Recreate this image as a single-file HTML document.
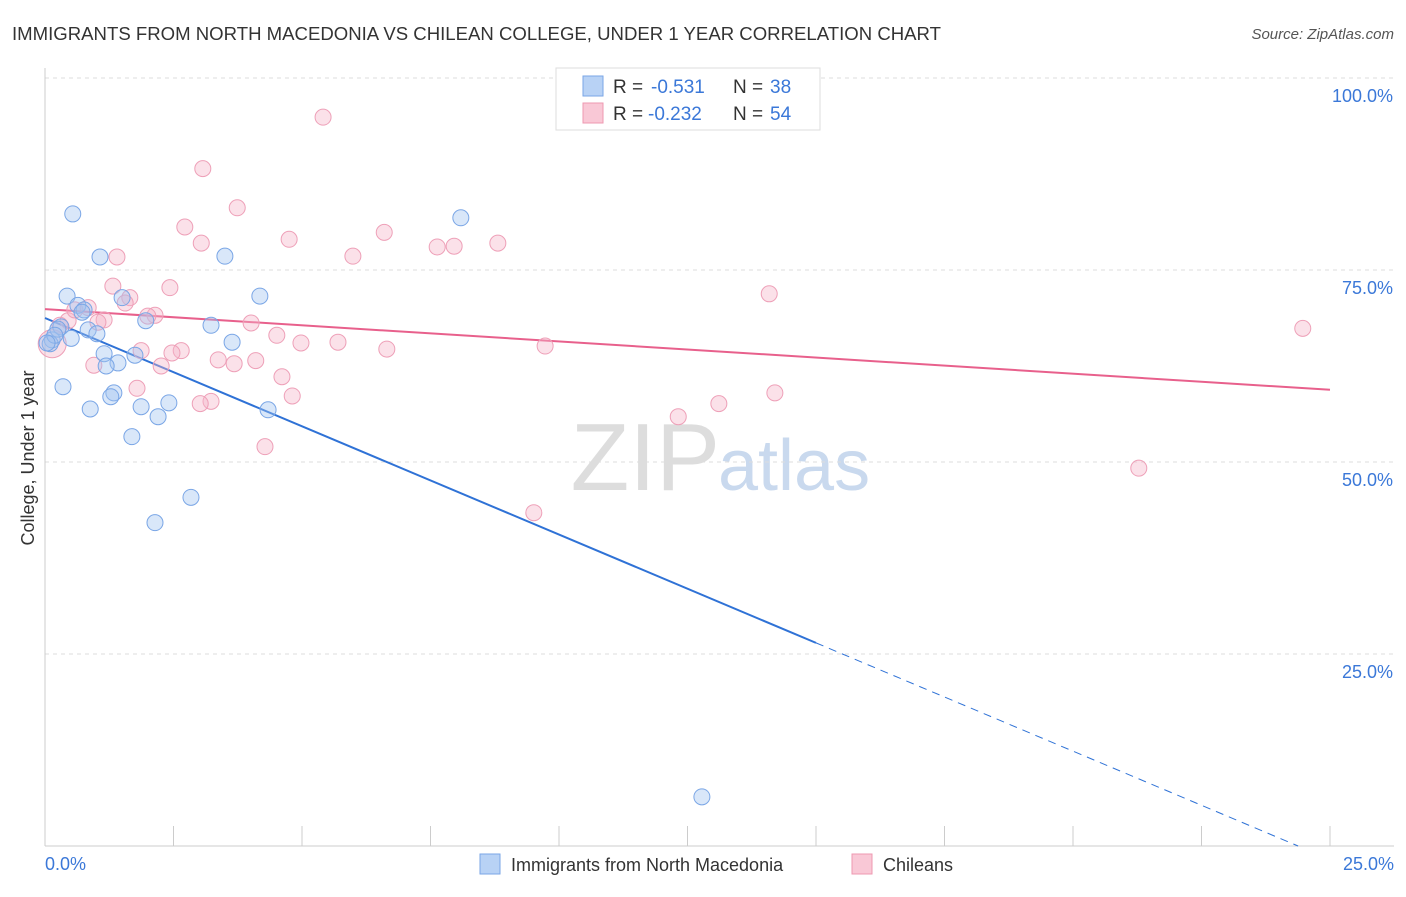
<!DOCTYPE html>
<html><head><meta charset="utf-8"><style>
body{margin:0;background:#fff;font-family:"Liberation Sans",sans-serif;}
svg text{font-family:"Liberation Sans",sans-serif;}
</style></head><body>
<svg width="1406" height="892" id="chart">
<text x="12" y="40" font-size="18" fill="#333" textLength="929" lengthAdjust="spacingAndGlyphs">IMMIGRANTS FROM NORTH MACEDONIA VS CHILEAN COLLEGE, UNDER 1 YEAR CORRELATION CHART</text>
<text x="1394" y="39" font-size="15" fill="#555" text-anchor="end" font-style="italic">Source: ZipAtlas.com</text>
<text x="720" y="490" font-size="96" fill="#ddd" text-anchor="end" font-family="Liberation Serif">ZIP</text>
<text x="718" y="490" font-size="72" fill="#c9d9ee">atlas</text>
<g id="grid"></g><g id="axes"></g><g id="lines"></g><g id="pts"></g>
<text transform="translate(34,458) rotate(-90)" font-size="18" fill="#333" text-anchor="middle">College, Under 1 year</text>
<text x="45" y="870" font-size="18" fill="#3b78d8">0.0%</text>
<text x="1394" y="870" font-size="18" fill="#3b78d8" text-anchor="end">25.0%</text>
<g>
<rect x="556" y="68" width="264" height="62" fill="#fff" stroke="#ddd"/>
<rect x="583" y="76" width="20" height="20" fill="#b8d2f5" stroke="#7aa6e6"/>
<text x="613" y="93" font-size="19" fill="#333">R =</text>
<text x="651" y="93" font-size="19" fill="#3b78d8">-0.531</text>
<text x="733" y="93" font-size="19" fill="#333">N =</text>
<text x="770" y="93" font-size="19" fill="#3b78d8">38</text>
<rect x="583" y="103" width="20" height="20" fill="#f9c8d6" stroke="#ee98b0"/>
<text x="613" y="120" font-size="19" fill="#333">R =</text>
<text x="648" y="120" font-size="19" fill="#3b78d8">-0.232</text>
<text x="733" y="120" font-size="19" fill="#333">N =</text>
<text x="770" y="120" font-size="19" fill="#3b78d8">54</text>
</g>
<g>
<rect x="480" y="854" width="20" height="20" fill="#b8d2f5" stroke="#7aa6e6"/>
<text x="511" y="871" font-size="18" fill="#333">Immigrants from North Macedonia</text>
<rect x="852" y="854" width="20" height="20" fill="#f9c8d6" stroke="#ee98b0"/>
<text x="883" y="871" font-size="18" fill="#333">Chileans</text>
</g>
</svg>
<script>
const yTicks=[25,50,75,100];
const yTickLabels=["25.0%","50.0%","75.0%","100.0%"];
const blueX=[0.54,1.07,3.50,8.09,0.43,0.64,0.76,1.50,4.18,0.31,0.84,1.01,0.14,0.51,1.96,3.23,3.64,1.15,1.75,1.42,1.19,0.35,1.34,1.28,0.88,1.87,2.41,2.20,4.34,1.69,2.84,2.14,12.78,0.10,0.25,0.72,0.19,0.04];
const blueY=[82.3,76.7,76.8,81.8,71.6,70.4,69.8,71.4,71.6,67.6,67.2,66.7,65.9,66.1,68.4,67.8,65.6,64.1,63.9,62.9,62.5,59.8,59.0,58.5,56.9,57.2,57.7,55.9,56.8,53.3,45.4,42.1,6.4,65.4,67.3,69.5,66.5,65.5];
const pinkX=[5.41,3.07,3.74,2.72,3.04,4.75,6.60,5.99,7.63,7.96,8.81,1.40,1.32,2.43,1.65,1.56,2.14,2.00,1.15,1.03,0.45,0.29,4.01,4.51,4.98,5.70,6.65,9.73,14.09,24.47,1.87,2.65,2.47,3.37,3.68,4.10,2.26,0.95,4.61,1.79,4.81,3.23,3.02,14.20,13.11,12.32,4.28,9.51,21.28,0.14,0.58,0.84];
const pinkY=[94.9,88.2,83.1,80.6,78.5,79.0,79.9,76.8,78.0,78.1,78.5,76.7,72.9,72.7,71.4,70.7,69.1,69.0,68.5,68.2,68.4,67.8,68.1,66.5,65.5,65.6,64.7,65.1,71.9,67.4,64.5,64.5,64.2,63.3,62.8,63.2,62.5,62.6,61.1,59.6,58.6,57.9,57.6,59.0,57.6,55.9,52.0,43.4,49.2,65.4,69.8,70.1];
const blueTrend=[68.75,-2.82];
const pinkTrend=[69.9,-0.42];
const X=v=>45+v/25*1285, Y=v=>846-v/100*768;
const NS="http://www.w3.org/2000/svg";
function mk(t,a,p){const e=document.createElementNS(NS,t);for(const k in a)e.setAttribute(k,a[k]);document.getElementById(p).appendChild(e);return e;}
yTicks.forEach((t,i)=>{
 const g=mk('line',{x1:45,x2:1394,y1:Y(t),y2:Y(t),stroke:'#ddd','stroke-dasharray':'4,4'},'grid');
 
 
 const l=mk('text',{x:1393,y:Y(t)+24,'font-size':18,fill:'#3b78d8','text-anchor':'end'},'grid');
 l.textContent=yTickLabels[i];
 
 
});
const ax=mk('line',{x1:45,x2:1394,y1:846,y2:846,stroke:'#ccc'},'axes');


const ay=mk('line',{x1:45,x2:45,y1:68,y2:846,stroke:'#ccc'},'axes');


for(let i=0;i<=10;i++){const tk=mk('line',{x1:X(i*2.5),x2:X(i*2.5),y1:826,y2:846,stroke:'#ccc'},'axes');
 
 }
const bEnd=15, bZero=-blueTrend[0]/blueTrend[1];
const b1=mk('line',{x1:X(0),y1:Y(blueTrend[0]),x2:X(bEnd),y2:Y(blueTrend[0]+blueTrend[1]*bEnd),stroke:'#2f72d6','stroke-width':2},'lines');


const b2=mk('line',{x1:X(bEnd),y1:Y(blueTrend[0]+blueTrend[1]*bEnd),x2:X(bZero),y2:Y(0),stroke:'#2f72d6','stroke-width':1,'stroke-dasharray':'8,6'},'lines');


const p1=mk('line',{x1:X(0),y1:Y(pinkTrend[0]),x2:X(25),y2:Y(pinkTrend[0]+pinkTrend[1]*25),stroke:'#e8608c','stroke-width':2},'lines');


pinkX.forEach((x,i)=>{const c=mk('circle',{cx:X(x),cy:Y(pinkY[i]),r:i==49?14:8,fill:'rgba(246,180,200,0.4)',stroke:'#eea0b8','stroke-width':1},'pts');
 
 });
blueX.forEach((x,i)=>{const c=mk('circle',{cx:X(x),cy:Y(blueY[i]),r:8,fill:'rgba(160,195,240,0.4)',stroke:'#7aa6e6','stroke-width':1},'pts');
 
 });
</script>
</body></html>
